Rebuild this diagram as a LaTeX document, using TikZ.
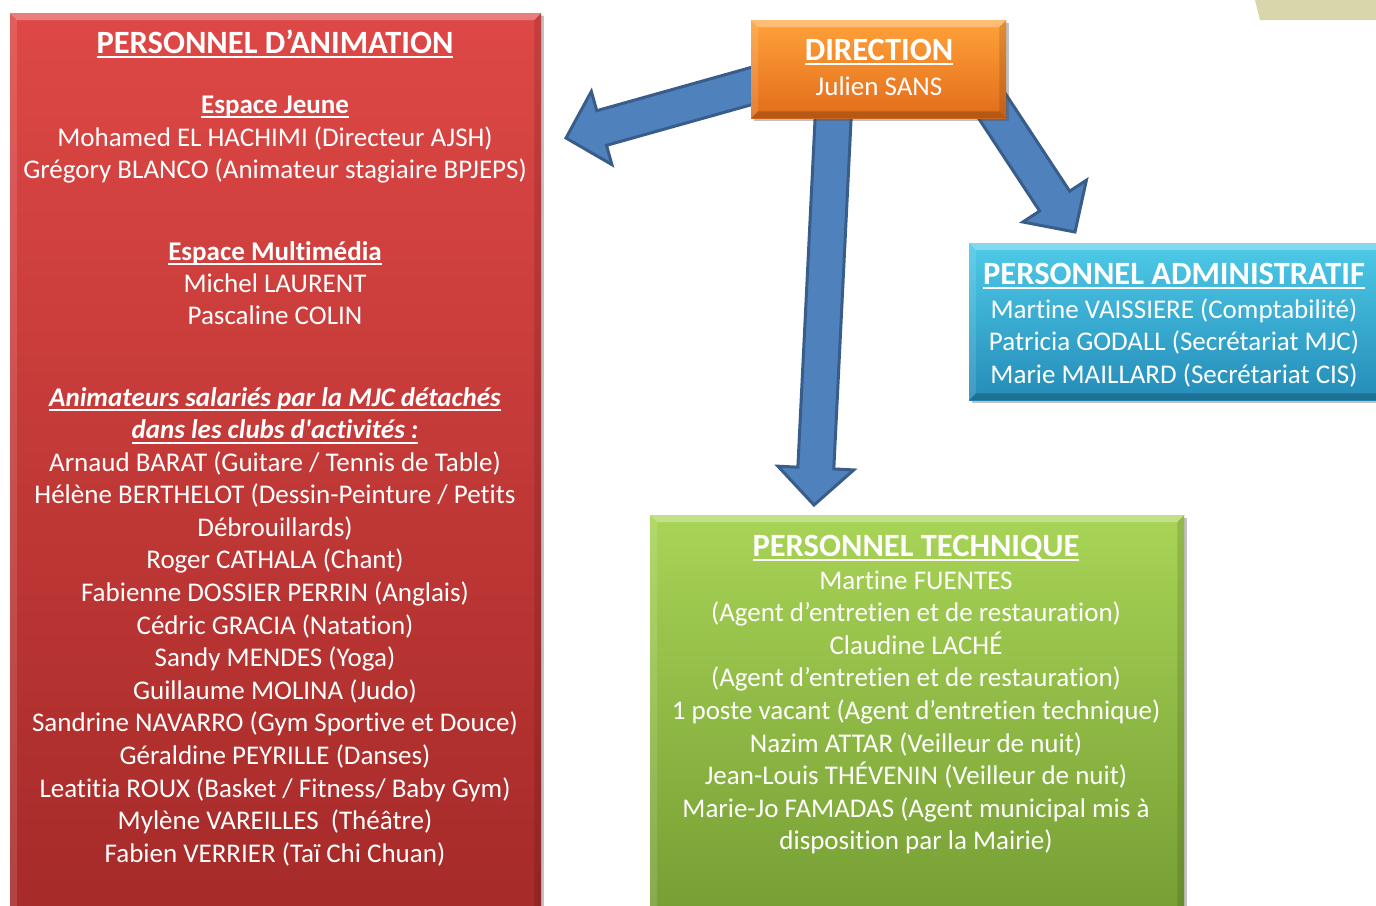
\documentclass[tikz,border=0pt]{standalone}
\usepackage{fontspec}
\setmainfont{Carlito}[Ligatures={TeXOff,CommonOff}]
\usetikzlibrary{calc,positioning,shadows}

\definecolor{redtop}{RGB}{222,72,70}
\definecolor{redbot}{RGB}{165,42,40}
\definecolor{orgtop}{RGB}{255,162,58}
\definecolor{orgbot}{RGB}{226,108,26}
\definecolor{blutop}{RGB}{78,202,232}
\definecolor{blubot}{RGB}{36,140,184}
\definecolor{grntop}{RGB}{168,212,86}
\definecolor{grnbot}{RGB}{118,158,52}
\definecolor{arrowfill}{RGB}{79,129,189}
\definecolor{arrowline}{RGB}{56,93,138}
\definecolor{sand}{RGB}{217,214,171}

\newcommand{\undl}[1]{\setbox0\hbox{#1}\rlap{\rule[-5pt]{\wd0}{1.8pt}}\box0}

\tikzset{
  box/.style={rectangle, inner sep=0pt, anchor=north west, draw=none,
    drop shadow={shadow xshift=3pt, shadow yshift=-3pt, opacity=.35, fill=black!70}},
  txt/.style={text=white, inner sep=0pt, align=center, anchor=base,
    font=\fontsize{27}{32.6}\selectfont},
  sub/.style={txt, font=\fontsize{27}{32.6}\selectfont\bfseries},
  ttl/.style={txt, font=\fontsize{32.5}{36}\selectfont\bfseries},
  blockarrow/.style={fill=arrowfill, draw=arrowline, line width=3pt, line join=miter},
}

% raised edge of a box
\newcommand{\bevel}[1]{%
  \fill[white,opacity=.3] (#1.north west) -- (#1.north east) -- ($(#1.north east)+(-7,7)$) -- ($(#1.north west)+(7,7)$) -- cycle;
  \fill[white,opacity=.12] (#1.north west) -- ($(#1.north west)+(7,7)$) -- ($(#1.south west)+(7,-7)$) -- (#1.south west) -- cycle;
  \fill[black,opacity=.12] (#1.north east) -- ($(#1.north east)+(-7,7)$) -- ($(#1.south east)+(-7,-7)$) -- (#1.south east) -- cycle;
  \fill[black,opacity=.2] (#1.south west) -- ($(#1.south west)+(7,-7)$) -- ($(#1.south east)+(-7,-7)$) -- (#1.south east) -- cycle;
}
% fat arrow from #1 to #2
\newcommand{\bigarrow}[2]{%
  \coordinate (hb) at ($(#2)!37pt!(#1)$);
  \draw[blockarrow] ($(#1)!18pt!90:(#2)$) -- ($(hb)!18pt!90:(#2)$) -- ($(hb)!38pt!90:(#2)$) -- (#2)
    -- ($(hb)!38pt!-90:(#2)$) -- ($(hb)!18pt!-90:(#2)$) -- ($(#1)!18pt!-90:(#2)$) -- cycle;
}

\begin{document}
\begin{tikzpicture}[x=1pt,y=-1pt]
\useasboundingbox (0,0) rectangle (1376,905);
\fill[sand] (1255,0) -- (1376,0) -- (1376,20) -- (1260,20) -- cycle;

% arrows first, the boxes cover their roots
\coordinate (dirL) at (780,78);
\coordinate (dirD) at (835,80);
\coordinate (dirR) at (965,65);
\coordinate (animtip) at (566,138);
\coordinate (techtip) at (814,505);
\coordinate (admintip) at (1075,232);
\bigarrow{dirL}{animtip}
\bigarrow{dirD}{techtip}
\bigarrow{dirR}{admintip}

% boxes
\node[box, top color=redtop, bottom color=redbot, minimum width=531, minimum height=910] (anim) at (10,13) {};
\node[box, top color=orgtop, bottom color=orgbot, minimum width=255, minimum height=98] (dir) at (751,20) {};
\node[box, top color=blutop, bottom color=blubot, minimum width=420, minimum height=157] (admin) at (969,243) {};
\node[box, top color=grntop, bottom color=grnbot, minimum width=534, minimum height=400] (tech) at (650,515) {};
\bevel{anim}
\bevel{dir}
\bevel{admin}
\bevel{tech}

% direction (base = last line)
\node[ttl] (dirT) at (879,60) {\undl{DIRECTION}};
\node[txt] (dirN) at (879,95) {Julien SANS};

% animation
\node[ttl] (animT) at (275,53) {\undl{PERSONNEL D’ANIMATION}};
\node[sub] (jeuneT) at (275,113) {\undl{Espace Jeune}};
\node[txt] (jeune) at (275,178.6) {Mohamed EL HACHIMI (Directeur AJSH)\\Grégory BLANCO (Animateur stagiaire BPJEPS)};
\node[sub] (multiT) at (275,260) {\undl{Espace Multimédia}};
\node[txt] (multi) at (275,324.6) {Michel LAURENT\\Pascaline COLIN};
\node[sub, font=\fontsize{27}{32.6}\selectfont\bfseries\itshape] (clubsT) at (275,438.6)
  {\undl{Animateurs salariés par la MJC détachés}\\\undl{dans les clubs d'activités :}};
\node[txt] (clubs) at (275,862.2) {Arnaud BARAT (Guitare / Tennis de Table)\\
  Hélène BERTHELOT (Dessin-Peinture / Petits\\Débrouillards)\\
  Roger CATHALA (Chant)\\Fabienne DOSSIER PERRIN (Anglais)\\
  Cédric GRACIA (Natation)\\Sandy MENDES (Yoga)\\Guillaume MOLINA (Judo)\\
  Sandrine NAVARRO (Gym Sportive et Douce)\\Géraldine PEYRILLE (Danses)\\
  Leatitia ROUX (Basket / Fitness/ Baby Gym)\\Mylène VAREILLES\ \ (Théâtre)\\
  Fabien VERRIER (Taï Chi Chuan)};

% administratif
\node[ttl] (adminT) at (1174,284) {\undl{PERSONNEL ADMINISTRATIF}};
\node[txt] (adminL) at (1174,383.2) {Martine VAISSIERE (Comptabilité)\\
  Patricia GODALL (Secrétariat MJC)\\Marie MAILLARD (Secrétariat CIS)};

% technique
\node[ttl] (techT) at (916,556) {\undl{PERSONNEL TECHNIQUE}};
\node[txt] (techL) at (916,849.8) {Martine FUENTES\\(Agent d’entretien et de restauration)\\
  Claudine LACHÉ\\(Agent d’entretien et de restauration)\\
  1 poste vacant (Agent d’entretien technique)\\Nazim ATTAR (Veilleur de nuit)\\
  Jean-Louis THÉVENIN (Veilleur de nuit)\\Marie-Jo FAMADAS (Agent municipal mis à\\
  disposition par la Mairie)};
\end{tikzpicture}
\end{document}
